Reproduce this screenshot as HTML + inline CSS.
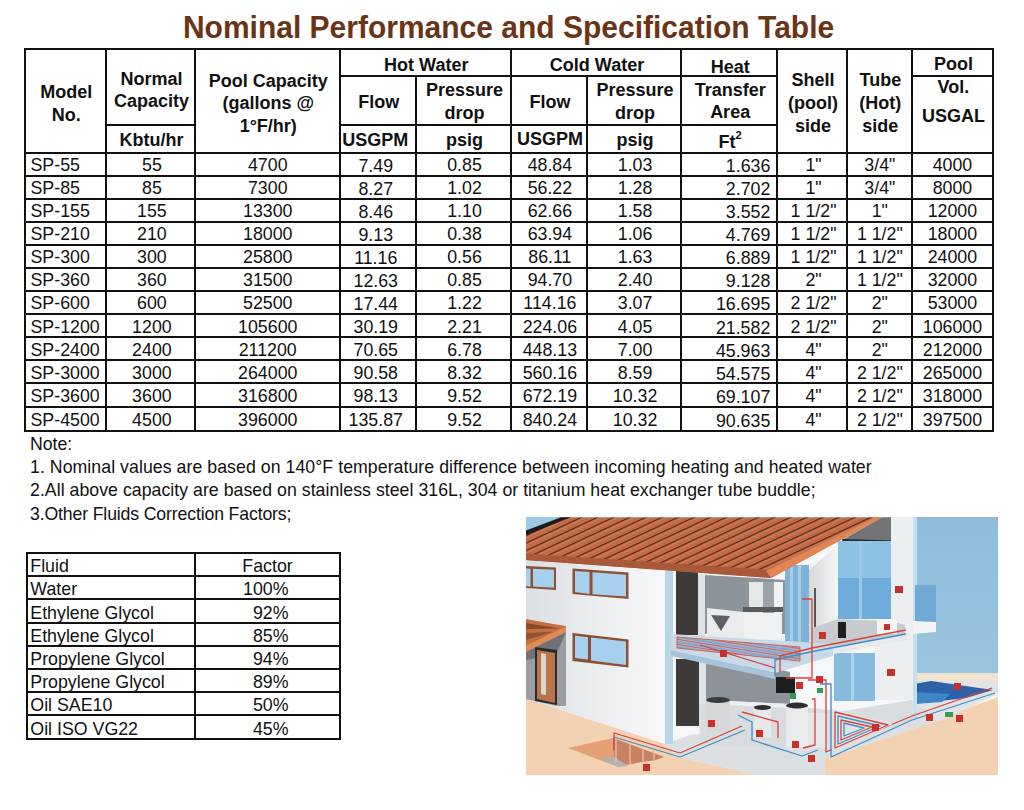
<!DOCTYPE html>
<html><head><meta charset="utf-8"><style>
html,body{margin:0;padding:0;background:#fff;}
body{width:1024px;height:810px;position:relative;overflow:hidden;font-family:"Liberation Sans", sans-serif;color:#111;}
.l{position:absolute;background:#111;}
.t{position:absolute;white-space:nowrap;}
sup{font-size:62%;vertical-align:0;position:relative;top:-0.78em;}
.illu{position:absolute;left:526px;top:516px;width:472px;height:259px;}
</style></head><body>
<div class="t" style="top:12.90px;font-size:30px;line-height:30px;font-weight:bold;color:#6b3416;left:182.90px;transform:scaleY(1.06);transform-origin:0 25.4px;">Nominal Performance and Specification Table</div><div class="l" style="left:23.50px;top:48.00px;width:970.50px;height:2px"></div><div class="l" style="left:23.50px;top:151.80px;width:970.50px;height:2px"></div><div class="l" style="left:23.50px;top:174.90px;width:970.50px;height:2px"></div><div class="l" style="left:23.50px;top:197.80px;width:970.50px;height:2px"></div><div class="l" style="left:23.50px;top:220.90px;width:970.50px;height:2px"></div><div class="l" style="left:23.50px;top:244.10px;width:970.50px;height:2px"></div><div class="l" style="left:23.50px;top:267.00px;width:970.50px;height:2px"></div><div class="l" style="left:23.50px;top:290.00px;width:970.50px;height:2px"></div><div class="l" style="left:23.50px;top:313.10px;width:970.50px;height:2px"></div><div class="l" style="left:23.50px;top:336.30px;width:970.50px;height:2px"></div><div class="l" style="left:23.50px;top:359.30px;width:970.50px;height:2px"></div><div class="l" style="left:23.50px;top:382.30px;width:970.50px;height:2px"></div><div class="l" style="left:23.50px;top:405.60px;width:970.50px;height:2px"></div><div class="l" style="left:23.50px;top:429.50px;width:970.50px;height:2px"></div><div class="l" style="left:23.50px;top:48.00px;width:2px;height:383.50px"></div><div class="l" style="left:105.00px;top:48.00px;width:2px;height:383.50px"></div><div class="l" style="left:194.00px;top:48.00px;width:2px;height:383.50px"></div><div class="l" style="left:338.50px;top:48.00px;width:2px;height:383.50px"></div><div class="l" style="left:415.00px;top:74.50px;width:2px;height:357.00px"></div><div class="l" style="left:510.00px;top:48.00px;width:2px;height:383.50px"></div><div class="l" style="left:586.20px;top:74.50px;width:2px;height:357.00px"></div><div class="l" style="left:680.00px;top:48.00px;width:2px;height:383.50px"></div><div class="l" style="left:776.30px;top:48.00px;width:2px;height:383.50px"></div><div class="l" style="left:845.80px;top:48.00px;width:2px;height:383.50px"></div><div class="l" style="left:910.90px;top:48.00px;width:2px;height:383.50px"></div><div class="l" style="left:992.00px;top:48.00px;width:2px;height:383.50px"></div><div class="l" style="left:338.50px;top:74.50px;width:439.80px;height:2px"></div><div class="l" style="left:910.90px;top:74.50px;width:83.10px;height:2px"></div><div class="l" style="left:105.00px;top:124.00px;width:91.00px;height:2px"></div><div class="l" style="left:338.50px;top:124.00px;width:439.80px;height:2px"></div><div class="t" style="top:82.76px;font-size:18px;line-height:18px;font-weight:bold;left:25.50px;width:81.50px;text-align:center;">Model</div><div class="t" style="top:105.76px;font-size:18px;line-height:18px;font-weight:bold;left:25.50px;width:81.50px;text-align:center;">No.</div><div class="t" style="top:69.76px;font-size:18px;line-height:18px;font-weight:bold;left:107.00px;width:89.00px;text-align:center;">Normal</div><div class="t" style="top:92.26px;font-size:18px;line-height:18px;font-weight:bold;left:107.00px;width:89.00px;text-align:center;">Capacity</div><div class="t" style="top:131.26px;font-size:18px;line-height:18px;font-weight:bold;left:107.00px;width:89.00px;text-align:center;">Kbtu/hr</div><div class="t" style="top:71.96px;font-size:18px;line-height:18px;font-weight:bold;left:196.00px;width:144.50px;text-align:center;">Pool Capacity</div><div class="t" style="top:94.26px;font-size:18px;line-height:18px;font-weight:bold;left:196.00px;width:144.50px;text-align:center;">(gallons @</div><div class="t" style="top:116.86px;font-size:18px;line-height:18px;font-weight:bold;left:196.00px;width:144.50px;text-align:center;">1°F/hr)</div><div class="t" style="top:55.56px;font-size:18px;line-height:18px;font-weight:bold;left:340.50px;width:171.50px;text-align:center;">Hot Water</div><div class="t" style="top:55.56px;font-size:18px;line-height:18px;font-weight:bold;left:512.00px;width:170.00px;text-align:center;">Cold Water</div><div class="t" style="top:92.86px;font-size:18px;line-height:18px;font-weight:bold;left:340.50px;width:76.50px;text-align:center;">Flow</div><div class="t" style="top:92.86px;font-size:18px;line-height:18px;font-weight:bold;left:512.00px;width:76.20px;text-align:center;">Flow</div><div class="t" style="top:81.26px;font-size:18px;line-height:18px;font-weight:bold;left:417.00px;width:95.00px;text-align:center;">Pressure</div><div class="t" style="top:103.76px;font-size:18px;line-height:18px;font-weight:bold;left:417.00px;width:95.00px;text-align:center;">drop</div><div class="t" style="top:81.26px;font-size:18px;line-height:18px;font-weight:bold;left:588.20px;width:93.80px;text-align:center;">Pressure</div><div class="t" style="top:103.76px;font-size:18px;line-height:18px;font-weight:bold;left:588.20px;width:93.80px;text-align:center;">drop</div><div class="t" style="top:130.96px;font-size:18px;line-height:18px;font-weight:bold;left:337.00px;width:76.50px;text-align:center;">USGPM</div><div class="t" style="top:129.96px;font-size:18px;line-height:18px;font-weight:bold;left:512.00px;width:76.20px;text-align:center;">USGPM</div><div class="t" style="top:131.26px;font-size:18px;line-height:18px;font-weight:bold;left:417.00px;width:95.00px;text-align:center;">psig</div><div class="t" style="top:131.26px;font-size:18px;line-height:18px;font-weight:bold;left:588.20px;width:93.80px;text-align:center;">psig</div><div class="t" style="top:57.76px;font-size:18px;line-height:18px;font-weight:bold;left:682.00px;width:96.30px;text-align:center;">Heat</div><div class="t" style="top:81.26px;font-size:18px;line-height:18px;font-weight:bold;left:682.00px;width:96.30px;text-align:center;">Transfer</div><div class="t" style="top:103.26px;font-size:18px;line-height:18px;font-weight:bold;left:682.00px;width:96.30px;text-align:center;">Area</div><div class="t" style="top:133.06px;font-size:18px;line-height:18px;font-weight:bold;left:682.00px;width:96.30px;text-align:center;">Ft<sup>2</sup></div><div class="t" style="top:71.26px;font-size:18px;line-height:18px;font-weight:bold;left:778.30px;width:69.50px;text-align:center;">Shell</div><div class="t" style="top:94.26px;font-size:18px;line-height:18px;font-weight:bold;left:778.30px;width:69.50px;text-align:center;">(pool)</div><div class="t" style="top:117.26px;font-size:18px;line-height:18px;font-weight:bold;left:778.30px;width:69.50px;text-align:center;">side</div><div class="t" style="top:71.26px;font-size:18px;line-height:18px;font-weight:bold;left:847.80px;width:65.10px;text-align:center;">Tube</div><div class="t" style="top:94.26px;font-size:18px;line-height:18px;font-weight:bold;left:847.80px;width:65.10px;text-align:center;">(Hot)</div><div class="t" style="top:117.26px;font-size:18px;line-height:18px;font-weight:bold;left:847.80px;width:65.10px;text-align:center;">side</div><div class="t" style="top:54.76px;font-size:18px;line-height:18px;font-weight:bold;left:912.90px;width:81.10px;text-align:center;">Pool</div><div class="t" style="top:78.26px;font-size:18px;line-height:18px;font-weight:bold;left:912.90px;width:81.10px;text-align:center;">Vol.</div><div class="t" style="top:106.76px;font-size:18px;line-height:18px;font-weight:bold;left:912.90px;width:81.10px;text-align:center;">USGAL</div><div class="t" style="top:157.23px;font-size:17.8px;line-height:17.8px;left:30.50px;">SP-55</div><div class="t" style="top:157.23px;font-size:17.8px;line-height:17.8px;left:107.40px;width:89.00px;text-align:center;">55</div><div class="t" style="top:157.23px;font-size:17.8px;line-height:17.8px;left:195.50px;width:144.50px;text-align:center;">4700</div><div class="t" style="top:157.63px;font-size:17.8px;line-height:17.8px;left:337.50px;width:76.50px;text-align:center;">7.49</div><div class="t" style="top:157.23px;font-size:17.8px;line-height:17.8px;left:417.00px;width:95.00px;text-align:center;">0.85</div><div class="t" style="top:157.23px;font-size:17.8px;line-height:17.8px;left:511.80px;width:76.20px;text-align:center;">48.84</div><div class="t" style="top:157.23px;font-size:17.8px;line-height:17.8px;left:588.20px;width:93.80px;text-align:center;">1.03</div><div class="t" style="top:158.23px;font-size:17.8px;line-height:17.8px;left:370.30px;width:400px;text-align:right;">1.636</div><div class="t" style="top:157.23px;font-size:17.8px;line-height:17.8px;left:778.80px;width:69.50px;text-align:center;">1&quot;</div><div class="t" style="top:157.23px;font-size:17.8px;line-height:17.8px;left:847.30px;width:65.10px;text-align:center;">3/4&quot;</div><div class="t" style="top:157.23px;font-size:17.8px;line-height:17.8px;left:911.90px;width:81.10px;text-align:center;">4000</div><div class="t" style="top:180.13px;font-size:17.8px;line-height:17.8px;left:30.50px;">SP-85</div><div class="t" style="top:180.13px;font-size:17.8px;line-height:17.8px;left:107.40px;width:89.00px;text-align:center;">85</div><div class="t" style="top:180.13px;font-size:17.8px;line-height:17.8px;left:195.50px;width:144.50px;text-align:center;">7300</div><div class="t" style="top:180.53px;font-size:17.8px;line-height:17.8px;left:337.50px;width:76.50px;text-align:center;">8.27</div><div class="t" style="top:180.13px;font-size:17.8px;line-height:17.8px;left:417.00px;width:95.00px;text-align:center;">1.02</div><div class="t" style="top:180.13px;font-size:17.8px;line-height:17.8px;left:511.80px;width:76.20px;text-align:center;">56.22</div><div class="t" style="top:180.13px;font-size:17.8px;line-height:17.8px;left:588.20px;width:93.80px;text-align:center;">1.28</div><div class="t" style="top:181.13px;font-size:17.8px;line-height:17.8px;left:370.30px;width:400px;text-align:right;">2.702</div><div class="t" style="top:180.13px;font-size:17.8px;line-height:17.8px;left:778.80px;width:69.50px;text-align:center;">1&quot;</div><div class="t" style="top:180.13px;font-size:17.8px;line-height:17.8px;left:847.30px;width:65.10px;text-align:center;">3/4&quot;</div><div class="t" style="top:180.13px;font-size:17.8px;line-height:17.8px;left:911.90px;width:81.10px;text-align:center;">8000</div><div class="t" style="top:203.23px;font-size:17.8px;line-height:17.8px;left:30.50px;">SP-155</div><div class="t" style="top:203.23px;font-size:17.8px;line-height:17.8px;left:107.40px;width:89.00px;text-align:center;">155</div><div class="t" style="top:203.23px;font-size:17.8px;line-height:17.8px;left:195.50px;width:144.50px;text-align:center;">13300</div><div class="t" style="top:203.63px;font-size:17.8px;line-height:17.8px;left:337.50px;width:76.50px;text-align:center;">8.46</div><div class="t" style="top:203.23px;font-size:17.8px;line-height:17.8px;left:417.00px;width:95.00px;text-align:center;">1.10</div><div class="t" style="top:203.23px;font-size:17.8px;line-height:17.8px;left:511.80px;width:76.20px;text-align:center;">62.66</div><div class="t" style="top:203.23px;font-size:17.8px;line-height:17.8px;left:588.20px;width:93.80px;text-align:center;">1.58</div><div class="t" style="top:204.23px;font-size:17.8px;line-height:17.8px;left:370.30px;width:400px;text-align:right;">3.552</div><div class="t" style="top:203.23px;font-size:17.8px;line-height:17.8px;left:778.80px;width:69.50px;text-align:center;">1 1/2&quot;</div><div class="t" style="top:203.23px;font-size:17.8px;line-height:17.8px;left:847.30px;width:65.10px;text-align:center;">1&quot;</div><div class="t" style="top:203.23px;font-size:17.8px;line-height:17.8px;left:911.90px;width:81.10px;text-align:center;">12000</div><div class="t" style="top:226.43px;font-size:17.8px;line-height:17.8px;left:30.50px;">SP-210</div><div class="t" style="top:226.43px;font-size:17.8px;line-height:17.8px;left:107.40px;width:89.00px;text-align:center;">210</div><div class="t" style="top:226.43px;font-size:17.8px;line-height:17.8px;left:195.50px;width:144.50px;text-align:center;">18000</div><div class="t" style="top:226.83px;font-size:17.8px;line-height:17.8px;left:337.50px;width:76.50px;text-align:center;">9.13</div><div class="t" style="top:226.43px;font-size:17.8px;line-height:17.8px;left:417.00px;width:95.00px;text-align:center;">0.38</div><div class="t" style="top:226.43px;font-size:17.8px;line-height:17.8px;left:511.80px;width:76.20px;text-align:center;">63.94</div><div class="t" style="top:226.43px;font-size:17.8px;line-height:17.8px;left:588.20px;width:93.80px;text-align:center;">1.06</div><div class="t" style="top:227.43px;font-size:17.8px;line-height:17.8px;left:370.30px;width:400px;text-align:right;">4.769</div><div class="t" style="top:226.43px;font-size:17.8px;line-height:17.8px;left:778.80px;width:69.50px;text-align:center;">1 1/2&quot;</div><div class="t" style="top:226.43px;font-size:17.8px;line-height:17.8px;left:847.30px;width:65.10px;text-align:center;">1 1/2&quot;</div><div class="t" style="top:226.43px;font-size:17.8px;line-height:17.8px;left:911.90px;width:81.10px;text-align:center;">18000</div><div class="t" style="top:249.33px;font-size:17.8px;line-height:17.8px;left:30.50px;">SP-300</div><div class="t" style="top:249.33px;font-size:17.8px;line-height:17.8px;left:107.40px;width:89.00px;text-align:center;">300</div><div class="t" style="top:249.33px;font-size:17.8px;line-height:17.8px;left:195.50px;width:144.50px;text-align:center;">25800</div><div class="t" style="top:249.73px;font-size:17.8px;line-height:17.8px;left:337.50px;width:76.50px;text-align:center;">11.16</div><div class="t" style="top:249.33px;font-size:17.8px;line-height:17.8px;left:417.00px;width:95.00px;text-align:center;">0.56</div><div class="t" style="top:249.33px;font-size:17.8px;line-height:17.8px;left:511.80px;width:76.20px;text-align:center;">86.11</div><div class="t" style="top:249.33px;font-size:17.8px;line-height:17.8px;left:588.20px;width:93.80px;text-align:center;">1.63</div><div class="t" style="top:250.33px;font-size:17.8px;line-height:17.8px;left:370.30px;width:400px;text-align:right;">6.889</div><div class="t" style="top:249.33px;font-size:17.8px;line-height:17.8px;left:778.80px;width:69.50px;text-align:center;">1 1/2&quot;</div><div class="t" style="top:249.33px;font-size:17.8px;line-height:17.8px;left:847.30px;width:65.10px;text-align:center;">1 1/2&quot;</div><div class="t" style="top:249.33px;font-size:17.8px;line-height:17.8px;left:911.90px;width:81.10px;text-align:center;">24000</div><div class="t" style="top:272.33px;font-size:17.8px;line-height:17.8px;left:30.50px;">SP-360</div><div class="t" style="top:272.33px;font-size:17.8px;line-height:17.8px;left:107.40px;width:89.00px;text-align:center;">360</div><div class="t" style="top:272.33px;font-size:17.8px;line-height:17.8px;left:195.50px;width:144.50px;text-align:center;">31500</div><div class="t" style="top:272.73px;font-size:17.8px;line-height:17.8px;left:337.50px;width:76.50px;text-align:center;">12.63</div><div class="t" style="top:272.33px;font-size:17.8px;line-height:17.8px;left:417.00px;width:95.00px;text-align:center;">0.85</div><div class="t" style="top:272.33px;font-size:17.8px;line-height:17.8px;left:511.80px;width:76.20px;text-align:center;">94.70</div><div class="t" style="top:272.33px;font-size:17.8px;line-height:17.8px;left:588.20px;width:93.80px;text-align:center;">2.40</div><div class="t" style="top:273.33px;font-size:17.8px;line-height:17.8px;left:370.30px;width:400px;text-align:right;">9.128</div><div class="t" style="top:272.33px;font-size:17.8px;line-height:17.8px;left:778.80px;width:69.50px;text-align:center;">2&quot;</div><div class="t" style="top:272.33px;font-size:17.8px;line-height:17.8px;left:847.30px;width:65.10px;text-align:center;">1 1/2&quot;</div><div class="t" style="top:272.33px;font-size:17.8px;line-height:17.8px;left:911.90px;width:81.10px;text-align:center;">32000</div><div class="t" style="top:295.43px;font-size:17.8px;line-height:17.8px;left:30.50px;">SP-600</div><div class="t" style="top:295.43px;font-size:17.8px;line-height:17.8px;left:107.40px;width:89.00px;text-align:center;">600</div><div class="t" style="top:295.43px;font-size:17.8px;line-height:17.8px;left:195.50px;width:144.50px;text-align:center;">52500</div><div class="t" style="top:295.83px;font-size:17.8px;line-height:17.8px;left:337.50px;width:76.50px;text-align:center;">17.44</div><div class="t" style="top:295.43px;font-size:17.8px;line-height:17.8px;left:417.00px;width:95.00px;text-align:center;">1.22</div><div class="t" style="top:295.43px;font-size:17.8px;line-height:17.8px;left:511.80px;width:76.20px;text-align:center;">114.16</div><div class="t" style="top:295.43px;font-size:17.8px;line-height:17.8px;left:588.20px;width:93.80px;text-align:center;">3.07</div><div class="t" style="top:296.43px;font-size:17.8px;line-height:17.8px;left:370.30px;width:400px;text-align:right;">16.695</div><div class="t" style="top:295.43px;font-size:17.8px;line-height:17.8px;left:778.80px;width:69.50px;text-align:center;">2 1/2&quot;</div><div class="t" style="top:295.43px;font-size:17.8px;line-height:17.8px;left:847.30px;width:65.10px;text-align:center;">2&quot;</div><div class="t" style="top:295.43px;font-size:17.8px;line-height:17.8px;left:911.90px;width:81.10px;text-align:center;">53000</div><div class="t" style="top:318.63px;font-size:17.8px;line-height:17.8px;left:30.50px;">SP-1200</div><div class="t" style="top:318.63px;font-size:17.8px;line-height:17.8px;left:107.40px;width:89.00px;text-align:center;">1200</div><div class="t" style="top:318.63px;font-size:17.8px;line-height:17.8px;left:195.50px;width:144.50px;text-align:center;">105600</div><div class="t" style="top:319.03px;font-size:17.8px;line-height:17.8px;left:337.50px;width:76.50px;text-align:center;">30.19</div><div class="t" style="top:318.63px;font-size:17.8px;line-height:17.8px;left:417.00px;width:95.00px;text-align:center;">2.21</div><div class="t" style="top:318.63px;font-size:17.8px;line-height:17.8px;left:511.80px;width:76.20px;text-align:center;">224.06</div><div class="t" style="top:318.63px;font-size:17.8px;line-height:17.8px;left:588.20px;width:93.80px;text-align:center;">4.05</div><div class="t" style="top:319.63px;font-size:17.8px;line-height:17.8px;left:370.30px;width:400px;text-align:right;">21.582</div><div class="t" style="top:318.63px;font-size:17.8px;line-height:17.8px;left:778.80px;width:69.50px;text-align:center;">2 1/2&quot;</div><div class="t" style="top:318.63px;font-size:17.8px;line-height:17.8px;left:847.30px;width:65.10px;text-align:center;">2&quot;</div><div class="t" style="top:318.63px;font-size:17.8px;line-height:17.8px;left:911.90px;width:81.10px;text-align:center;">106000</div><div class="t" style="top:341.63px;font-size:17.8px;line-height:17.8px;left:30.50px;">SP-2400</div><div class="t" style="top:341.63px;font-size:17.8px;line-height:17.8px;left:107.40px;width:89.00px;text-align:center;">2400</div><div class="t" style="top:341.63px;font-size:17.8px;line-height:17.8px;left:195.50px;width:144.50px;text-align:center;">211200</div><div class="t" style="top:342.03px;font-size:17.8px;line-height:17.8px;left:337.50px;width:76.50px;text-align:center;">70.65</div><div class="t" style="top:341.63px;font-size:17.8px;line-height:17.8px;left:417.00px;width:95.00px;text-align:center;">6.78</div><div class="t" style="top:341.63px;font-size:17.8px;line-height:17.8px;left:511.80px;width:76.20px;text-align:center;">448.13</div><div class="t" style="top:341.63px;font-size:17.8px;line-height:17.8px;left:588.20px;width:93.80px;text-align:center;">7.00</div><div class="t" style="top:342.63px;font-size:17.8px;line-height:17.8px;left:370.30px;width:400px;text-align:right;">45.963</div><div class="t" style="top:341.63px;font-size:17.8px;line-height:17.8px;left:778.80px;width:69.50px;text-align:center;">4&quot;</div><div class="t" style="top:341.63px;font-size:17.8px;line-height:17.8px;left:847.30px;width:65.10px;text-align:center;">2&quot;</div><div class="t" style="top:341.63px;font-size:17.8px;line-height:17.8px;left:911.90px;width:81.10px;text-align:center;">212000</div><div class="t" style="top:364.63px;font-size:17.8px;line-height:17.8px;left:30.50px;">SP-3000</div><div class="t" style="top:364.63px;font-size:17.8px;line-height:17.8px;left:107.40px;width:89.00px;text-align:center;">3000</div><div class="t" style="top:364.63px;font-size:17.8px;line-height:17.8px;left:195.50px;width:144.50px;text-align:center;">264000</div><div class="t" style="top:365.03px;font-size:17.8px;line-height:17.8px;left:337.50px;width:76.50px;text-align:center;">90.58</div><div class="t" style="top:364.63px;font-size:17.8px;line-height:17.8px;left:417.00px;width:95.00px;text-align:center;">8.32</div><div class="t" style="top:364.63px;font-size:17.8px;line-height:17.8px;left:511.80px;width:76.20px;text-align:center;">560.16</div><div class="t" style="top:364.63px;font-size:17.8px;line-height:17.8px;left:588.20px;width:93.80px;text-align:center;">8.59</div><div class="t" style="top:365.63px;font-size:17.8px;line-height:17.8px;left:370.30px;width:400px;text-align:right;">54.575</div><div class="t" style="top:364.63px;font-size:17.8px;line-height:17.8px;left:778.80px;width:69.50px;text-align:center;">4&quot;</div><div class="t" style="top:364.63px;font-size:17.8px;line-height:17.8px;left:847.30px;width:65.10px;text-align:center;">2 1/2&quot;</div><div class="t" style="top:364.63px;font-size:17.8px;line-height:17.8px;left:911.90px;width:81.10px;text-align:center;">265000</div><div class="t" style="top:387.93px;font-size:17.8px;line-height:17.8px;left:30.50px;">SP-3600</div><div class="t" style="top:387.93px;font-size:17.8px;line-height:17.8px;left:107.40px;width:89.00px;text-align:center;">3600</div><div class="t" style="top:387.93px;font-size:17.8px;line-height:17.8px;left:195.50px;width:144.50px;text-align:center;">316800</div><div class="t" style="top:388.33px;font-size:17.8px;line-height:17.8px;left:337.50px;width:76.50px;text-align:center;">98.13</div><div class="t" style="top:387.93px;font-size:17.8px;line-height:17.8px;left:417.00px;width:95.00px;text-align:center;">9.52</div><div class="t" style="top:387.93px;font-size:17.8px;line-height:17.8px;left:511.80px;width:76.20px;text-align:center;">672.19</div><div class="t" style="top:387.93px;font-size:17.8px;line-height:17.8px;left:588.20px;width:93.80px;text-align:center;">10.32</div><div class="t" style="top:388.93px;font-size:17.8px;line-height:17.8px;left:370.30px;width:400px;text-align:right;">69.107</div><div class="t" style="top:387.93px;font-size:17.8px;line-height:17.8px;left:778.80px;width:69.50px;text-align:center;">4&quot;</div><div class="t" style="top:387.93px;font-size:17.8px;line-height:17.8px;left:847.30px;width:65.10px;text-align:center;">2 1/2&quot;</div><div class="t" style="top:387.93px;font-size:17.8px;line-height:17.8px;left:911.90px;width:81.10px;text-align:center;">318000</div><div class="t" style="top:411.83px;font-size:17.8px;line-height:17.8px;left:30.50px;">SP-4500</div><div class="t" style="top:411.83px;font-size:17.8px;line-height:17.8px;left:107.40px;width:89.00px;text-align:center;">4500</div><div class="t" style="top:411.83px;font-size:17.8px;line-height:17.8px;left:195.50px;width:144.50px;text-align:center;">396000</div><div class="t" style="top:412.23px;font-size:17.8px;line-height:17.8px;left:337.50px;width:76.50px;text-align:center;">135.87</div><div class="t" style="top:411.83px;font-size:17.8px;line-height:17.8px;left:417.00px;width:95.00px;text-align:center;">9.52</div><div class="t" style="top:411.83px;font-size:17.8px;line-height:17.8px;left:511.80px;width:76.20px;text-align:center;">840.24</div><div class="t" style="top:411.83px;font-size:17.8px;line-height:17.8px;left:588.20px;width:93.80px;text-align:center;">10.32</div><div class="t" style="top:412.83px;font-size:17.8px;line-height:17.8px;left:370.30px;width:400px;text-align:right;">90.635</div><div class="t" style="top:411.83px;font-size:17.8px;line-height:17.8px;left:778.80px;width:69.50px;text-align:center;">4&quot;</div><div class="t" style="top:411.83px;font-size:17.8px;line-height:17.8px;left:847.30px;width:65.10px;text-align:center;">2 1/2&quot;</div><div class="t" style="top:411.83px;font-size:17.8px;line-height:17.8px;left:911.90px;width:81.10px;text-align:center;">397500</div><div class="t" style="top:436.02px;font-size:17.7px;line-height:17.7px;left:30.00px;">Note:</div><div class="t" style="top:459.12px;font-size:17.7px;line-height:17.7px;letter-spacing:0.06px;left:30.00px;">1. Nominal values are based on 140°F temperature difference between incoming heating and heated water</div><div class="t" style="top:482.22px;font-size:17.7px;line-height:17.7px;letter-spacing:0.04px;left:30.00px;">2.All above capacity are based on stainless steel 316L, 304 or titanium heat exchanger tube buddle;</div><div class="t" style="top:505.52px;font-size:17.7px;line-height:17.7px;letter-spacing:-0.15px;left:30.00px;">3.Other Fluids Correction Factors;</div><div class="l" style="left:26.00px;top:552.00px;width:315.00px;height:2px"></div><div class="l" style="left:26.00px;top:575.20px;width:315.00px;height:2px"></div><div class="l" style="left:26.00px;top:598.40px;width:315.00px;height:2px"></div><div class="l" style="left:26.00px;top:621.60px;width:315.00px;height:2px"></div><div class="l" style="left:26.00px;top:644.80px;width:315.00px;height:2px"></div><div class="l" style="left:26.00px;top:668.00px;width:315.00px;height:2px"></div><div class="l" style="left:26.00px;top:691.20px;width:315.00px;height:2px"></div><div class="l" style="left:26.00px;top:714.40px;width:315.00px;height:2px"></div><div class="l" style="left:26.00px;top:737.60px;width:315.00px;height:2px"></div><div class="l" style="left:26.00px;top:552.00px;width:2px;height:187.60px"></div><div class="l" style="left:194.00px;top:552.00px;width:2px;height:187.60px"></div><div class="l" style="left:339.00px;top:552.00px;width:2px;height:187.60px"></div><div class="t" style="top:558.13px;font-size:17.8px;line-height:17.8px;left:30.30px;">Fluid</div><div class="t" style="top:558.13px;font-size:17.8px;line-height:17.8px;left:195.00px;width:145.00px;text-align:center;">Factor</div><div class="t" style="top:581.33px;font-size:17.8px;line-height:17.8px;left:30.30px;">Water</div><div class="t" style="top:581.33px;font-size:17.8px;line-height:17.8px;left:-111.50px;width:400px;text-align:right;">100%</div><div class="t" style="top:604.53px;font-size:17.8px;line-height:17.8px;left:30.30px;">Ethylene Glycol</div><div class="t" style="top:604.53px;font-size:17.8px;line-height:17.8px;left:-111.50px;width:400px;text-align:right;">92%</div><div class="t" style="top:627.73px;font-size:17.8px;line-height:17.8px;left:30.30px;">Ethylene Glycol</div><div class="t" style="top:627.73px;font-size:17.8px;line-height:17.8px;left:-111.50px;width:400px;text-align:right;">85%</div><div class="t" style="top:650.93px;font-size:17.8px;line-height:17.8px;left:30.30px;">Propylene Glycol</div><div class="t" style="top:650.93px;font-size:17.8px;line-height:17.8px;left:-111.50px;width:400px;text-align:right;">94%</div><div class="t" style="top:674.13px;font-size:17.8px;line-height:17.8px;left:30.30px;">Propylene Glycol</div><div class="t" style="top:674.13px;font-size:17.8px;line-height:17.8px;left:-111.50px;width:400px;text-align:right;">89%</div><div class="t" style="top:697.33px;font-size:17.8px;line-height:17.8px;left:30.30px;">Oil SAE10</div><div class="t" style="top:697.33px;font-size:17.8px;line-height:17.8px;left:-111.50px;width:400px;text-align:right;">50%</div><div class="t" style="top:720.53px;font-size:17.8px;line-height:17.8px;left:30.30px;">Oil ISO VG22</div><div class="t" style="top:720.53px;font-size:17.8px;line-height:17.8px;left:-111.50px;width:400px;text-align:right;">45%</div>
<div class="illu"><svg width="472" height="259" viewBox="526 516 472 259">
<defs>
<linearGradient id="wallg" x1="0" y1="0" x2="1" y2="0"><stop offset="0" stop-color="#dcdfe2"/><stop offset="0.55" stop-color="#eceef0"/><stop offset="1" stop-color="#f7f8f9"/></linearGradient>
<linearGradient id="skyg" x1="0" y1="0" x2="0" y2="1"><stop offset="0" stop-color="#8dbcdb"/><stop offset="1" stop-color="#9ac5df"/></linearGradient>
<linearGradient id="wwg" x1="0" y1="0" x2="1" y2="0"><stop offset="0" stop-color="#d5d9dc"/><stop offset="1" stop-color="#f4f5f6"/></linearGradient>
<pattern id="roofp" patternUnits="userSpaceOnUse" width="6.8" height="6.8" patternTransform="rotate(-25)"><rect width="6.8" height="6.8" fill="#c26a45"/><rect y="0" width="6.8" height="1.5" fill="#4f271b"/><rect y="1.5" width="6.8" height="1.6" fill="#d27f5a"/></pattern>
<pattern id="coil" patternUnits="userSpaceOnUse" width="5" height="5" patternTransform="rotate(9)"><rect width="5" height="5" fill="#aab8cc"/><rect y="0" width="5" height="1.0" fill="#d0605a"/><rect y="2.5" width="5" height="1.3" fill="#6f9bd0"/></pattern>
</defs>
<rect x="526" y="517" width="472" height="257" fill="#f6f7f8"/>
<!-- sky right -->
<rect x="915" y="517" width="83" height="157" fill="url(#skyg)"/>
<!-- sky top-left -->
<polygon points="526,517 566,517 526,532" fill="#9cc9e4"/>
<!-- ground -->
<polygon points="526,698 558,709 665,744 678,757 759,775 526,775" fill="#f2d2b3"/><polygon points="825,775 825,759 998,697 998,775" fill="#f2d2b3"/>
<!-- pool deck -->
<polygon points="914,673 998,673 998,694 940,721 914,721" fill="#e2e3e5"/>
<polygon points="914,673 998,673 998,681 914,681" fill="#efe2cf"/>
<polygon points="914,684 931,681 993,690 966,698 914,704" fill="#2d62a8"/>
<polygon points="914,692 950,694 942,702 914,704" fill="#3f86c8"/>
<!-- house floor platform -->
<polygon points="665,744 690,735 912,700 938,721 825,759 825,775 759,775 678,757" fill="#dcdfe2"/>
<!-- left house wall -->
<polygon points="526,556 666,570 666,744 558,709 526,698" fill="url(#wallg)"/>
<polygon points="665,571 673,571 673,744 665,744" fill="#b9d5ea"/>
<!-- porch -->
<polygon points="526,648 566,631 566,706 556,706 526,699" fill="#9a9ea3"/>
<polygon points="526,650 566,632 556,655 526,660" fill="#6f7377"/>
<polygon points="535,647 557,650 557,705 535,701" fill="#2b2b2b"/>
<polygon points="537,650 555,653 555,703 537,699" fill="#b8754a"/>
<polygon points="541,653 546,654 546,695 541,694" fill="#d8d6d2"/>
<polygon points="526,619 556,624.5 566,626 566,631 526,651" fill="#c46f40"/>
<polygon points="526,623 560,628.5 526,629" fill="#5a2c1b" opacity="0.55"/>
<polygon points="526,633 553,632 526,640" fill="#5a2c1b" opacity="0.45"/>
<polygon points="566,626.5 566,632 526,652 526,645.5" fill="#e08a56"/>
<!-- windows upper -->
<polygon points="526,566 556,567.5 556,590 526,588" fill="#8f4f32"/>
<polygon points="526,568.5 530.5,568.7 530.5,586.5 526,586.3" fill="#a6d0ee"/>
<polygon points="533,568.8 554,569.8 554,587.8 533,586.6" fill="#a6d0ee"/>
<polygon points="572.5,568.5 628.5,572.5 628.5,599 572.5,594" fill="#8f4f32"/>
<polygon points="575,571 589.5,572 589.5,594 575,592" fill="#a6d0ee"/>
<polygon points="592.5,572.3 626,574.8 626,596.5 592.5,594.3" fill="#a6d0ee"/>
<!-- windows lower -->
<polygon points="572.5,633 628.5,639.5 628.5,667.5 572.5,661" fill="#8f4f32"/>
<polygon points="575,635.8 588,637.2 588,659.5 575,658" fill="#a6d0ee"/>
<polygon points="591,637.6 626,641.6 626,665 591,660.5" fill="#a6d0ee"/>
<!-- interior: dark walls -->
<rect x="676" y="571" width="22" height="64" fill="#3d3a3a"/>
<rect x="676" y="659" width="23" height="67" fill="#3d3a3a"/>
<rect x="698" y="574" width="7" height="62" fill="#dfe3e6"/>
<rect x="699" y="660" width="7" height="66" fill="#dfe3e6"/>
<!-- grey interior walls -->
<polygon points="705,575 788,580 788,634 705,634" fill="#8c9399"/>
<polygon points="706,664 774,668 790,672 790,704 706,700" fill="#8d9398"/>
<!-- lower room floor -->
<polygon points="699,704 790,706 850,712 912,700 912,721 826,748 700,745" fill="#d9dcdf"/><rect x="808" y="713" width="20" height="35" fill="#e4e6e8"/>
<polygon points="706,700 790,704 790,708 706,704" fill="#eef0f1"/>
<!-- upper room white -->
<polygon points="707,608 744,612 744,645 707,640" fill="#e9ebec"/>
<!-- kitchen -->
<rect x="744" y="611" width="38" height="34" fill="#eef0f1"/>
<rect x="749" y="582" width="14" height="31" fill="#e4e6e8"/>
<rect x="763" y="582" width="11" height="31" fill="#9ea3a8"/>
<rect x="774" y="582" width="9" height="31" fill="#f0f1f2"/>
<rect x="743" y="607" width="40" height="5" fill="#5a5a5a"/>
<polygon points="711,615 730,616 721,631" fill="#5d5f61"/><polygon points="693,606 744,611 744,640 693,636" fill="#e6e9eb" opacity="0"/>
<!-- blue curtain -->
<rect x="785" y="565" width="24" height="80" fill="#7fb2d6"/>
<rect x="790" y="565" width="3" height="80" fill="#a6cde8"/>
<rect x="798" y="565" width="3" height="80" fill="#a6cde8"/>
<!-- white wall under roof right -->
<polygon points="809,570 838,545 838,652 809,652" fill="url(#wwg)"/>
<rect x="814" y="588" width="2" height="60" fill="#555"/>
<!-- grey overhang -->
<polygon points="882,517.3 909.6,517.3 892.6,541.6 842.2,540" fill="#717375"/><polygon points="842.2,539 892.6,540.6 892.6,542.6 842.2,541" fill="#2a2a2a"/>
<!-- upper blue glass room -->
<rect x="838" y="541" width="53" height="78" fill="#6eaddb"/>
<rect x="838" y="541" width="53" height="37" fill="#8ec2e5"/>
<rect x="859" y="541" width="3" height="78" fill="#9cc7e6"/>
<!-- right tall white wall -->
<polygon points="891,517 913,517 913,700 891,700" fill="#eceef0"/>
<rect x="913" y="517" width="4" height="204" fill="#c5def0"/>
<rect x="895" y="586" width="8" height="7" fill="#c8302c"/>
<!-- balcony -->
<rect x="915" y="585" width="21" height="38" fill="#6fa9d6"/>
<polygon points="913,621 936,622 936,632 913,634" fill="#f3f4f5"/>
<!-- upper room floor right -->
<polygon points="838,619 891,621 905,625 905,636 838,652 812,652 812,628" fill="#c6cbd0"/>
<rect x="877" y="620" width="20" height="14" fill="#f5f5f5"/>
<rect x="884" y="624" width="6" height="6" fill="#c8302c"/>
<rect x="838" y="622" width="8" height="16" fill="#1f1f1f"/>
<!-- lower right glass room -->
<rect x="834" y="653" width="41" height="48" fill="#86bbde"/>
<rect x="851" y="653" width="3" height="48" fill="#aed2ea"/>
<polygon points="875,646 912,640 912,700 875,700" fill="#eceef0"/>
<rect x="887" y="669" width="8" height="7" fill="#c8302c"/>
<!-- middle slab with pipes -->
<polygon points="780,656 906,634 908,640 782,664" fill="#e7eaec"/>
<!-- upper floor slab -->
<polygon points="671,634 833,644 833,656 775,673 671,650" fill="#c8dae7"/>
<polygon points="677,637 800,647 800,661 677,648" fill="url(#coil)" stroke="#d0605a" stroke-width="1"/>
<polygon points="671,650 775,673 775,679 671,656" fill="#a7c4da"/>
<!-- electrical panel -->
<rect x="776" y="677" width="19" height="16" fill="#1e1e1e"/>
<!-- tanks -->
<rect x="706" y="699" width="24" height="33" fill="#d6d7d8"/>
<ellipse cx="718" cy="700" rx="12" ry="3" fill="#3a3a3a"/>
<rect x="754" y="707" width="17" height="30" fill="#e6e8e9"/>
<ellipse cx="762.5" cy="707.5" rx="8.5" ry="2.5" fill="#2f2f2f"/>
<rect x="786" y="705" width="22" height="42" fill="#e9ebec"/>
<ellipse cx="797" cy="705.5" rx="11" ry="3" fill="#2f2f2f"/>
<!-- trench -->
<polygon points="568,748 613,738 664,757 618,767" fill="#e6a075"/>
<polygon points="613,738 664,757 656,760 623,765 614,760" fill="#c88262"/>
<polygon points="600,758 615,757 628,766 618,767" fill="#b4b2b0"/>
<g stroke="#f0c0b8" stroke-width="1.2"><line x1="616" y1="736" x2="616" y2="762"/><line x1="630" y1="740" x2="630" y2="764"/><line x1="643" y1="746" x2="643" y2="762"/><line x1="654" y1="751" x2="654" y2="760"/></g>
<!-- pipes -->
<g fill="none" stroke-linejoin="round" stroke-width="1.3">
<polyline points="614,750 614,733 680,753 742,726" stroke="#d9423c"/>
<polyline points="614,737 680,757 745,730" stroke="#3f8fc6"/>
<polyline points="738,715 752,722 752,740 802,756 818,750" stroke="#3f8fc6"/>
<polyline points="742,712 778,722 778,738" stroke="#d9423c"/>
<polyline points="812,699 815,699 815,745 803,748" stroke="#d9423c"/>
<polyline points="826,690 826,752 912,716 992,688" stroke="#d9423c"/>
<polyline points="831,692 831,757 912,720 995,693" stroke="#3f8fc6"/>
<polyline points="775,676 775,660 810,652 906,634" stroke="#3f8fc6"/>
<polyline points="780,672 780,656 812,648 906,630" stroke="#d9423c"/>
<polyline points="802,599 812,599 812,678 786,678" stroke="#d9423c"/>
<polyline points="808,680 826,680 826,690" stroke="#d9423c"/>
<polyline points="820,684 831,684 831,692" stroke="#3f8fc6"/>
<polyline points="700,645 775,668" stroke="#d9423c"/>
<polygon points="832,709 893,724 832,752" fill="#e0e3e6" stroke="none"/>
<polygon points="835,712 888,725 835,748" stroke="#d9423c"/>
<polygon points="838,716 880,726 838,744" stroke="#3f8fc6"/>
<polygon points="841,720 872,727 841,740" stroke="#d9423c"/>
<polygon points="844,723 864,728 844,736" stroke="#3f8fc6"/>
<!-- labels -->
<g fill="#c8302c">
<rect x="708" y="720" width="7" height="7"/><rect x="756" y="730" width="7" height="7"/><rect x="792" y="741" width="7" height="7"/>
<rect x="808" y="755" width="7" height="7"/><rect x="643" y="764" width="7" height="7"/><rect x="720" y="650" width="7" height="7"/>
<rect x="796" y="682" width="7" height="7"/><rect x="816" y="676" width="7" height="7"/><rect x="872" y="724" width="7" height="7"/>
<rect x="819" y="632" width="7" height="7"/><rect x="954" y="683" width="7" height="7"/><rect x="926" y="714" width="7" height="7"/>
<rect x="956" y="715" width="7" height="7"/>
</g>
<rect x="945" y="712" width="8" height="5" fill="#2f9a5a"/>
<rect x="790" y="693" width="6" height="6" fill="#2f9a5a"/>
<rect x="817" y="688" width="6" height="5" fill="#2f9a5a"/>
<!-- roof -->
<polygon points="526,531.3 566,517.3 882,517.3 771,578 526,560" fill="url(#roofp)"/>
<polygon points="526,553.5 771,570 771,578 526,560" fill="#a9583a"/>
<polygon points="876,517.3 883,517.3 771,578 766,571" fill="#e08656"/>
<polygon points="526,530.5 561,517.3 571,517.3 526,535" fill="#1e1a18"/>
</svg>
</div>
</body></html>
